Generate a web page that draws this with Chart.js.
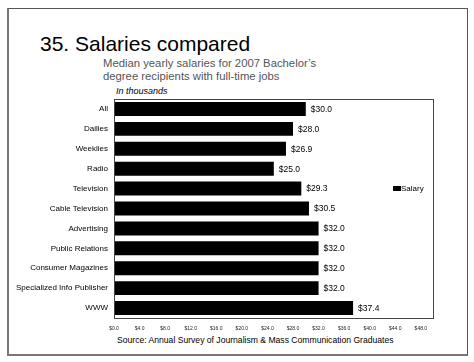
<!DOCTYPE html>
<html>
<head>
<meta charset="utf-8">
<script src="https://cdn.jsdelivr.net/npm/chart.js@4"></script>
<style>
body { margin: 0; background: #fff; font-family: "Liberation Sans", Arial, sans-serif; }
#wrap { position: relative; width: 474px; height: 362px; overflow: hidden; }
#frame { position: absolute; left: 7px; top: 8px; width: 458px; height: 345px; border: 1px solid #555; border-left: 2px solid #777; border-bottom: 2px solid #777; }
#title { position: absolute; left: 40px; top: 32px; font-size: 21px; line-height: 24px; color: #000; white-space: nowrap; }
#sub { position: absolute; left: 103px; top: 57px; font-size: 11.3px; line-height: 13px; color: #555; white-space: nowrap; }
#unit { position: absolute; left: 116px; top: 86px; font-size: 9px; font-style: italic; color: #000; }
#src { position: absolute; left: 117px; top: 335px; font-size: 8.6px; color: #000; white-space: nowrap; }
canvas { position: absolute; left: 0; top: 0; }
</style>
</head>
<body>
<div id="wrap">
  <div id="frame"></div>
  <div id="title">35. Salaries compared</div>
  <div id="sub">Median yearly salaries for 2007 Bachelor’s<br>degree recipients with full-time jobs</div>
  <div id="unit">In thousands</div>
  <div id="src">Source: Annual Survey of Journalism &amp; Mass Communication Graduates</div>
  <canvas id="salaryCanvas" width="474" height="362"></canvas>
</div>
<script>
// data (thousands of dollars)
var categories = ["All", "Dailies", "Weeklies", "Radio", "Television", "Cable Television",
    "Advertising", "Public Relations", "Consumer Magazines", "Specialized Info Publisher", "WWW"];
var salary = [30.0, 28.0, 26.9, 25.0, 29.3, 30.5, 32.0, 32.0, 32.0, 32.0, 37.4];
var xTicks = [0, 4, 8, 12, 16, 20, 24, 28, 32, 36, 40, 44, 48];

var font = "'Liberation Sans', Arial, sans-serif";

// box round the plot area
var plotBox = {
    id: "plotBox",
    afterDraw: function(chart){
        var a = chart.chartArea, ctx = chart.ctx;
        ctx.save();
        ctx.strokeStyle = "#444";
        ctx.lineWidth = 1;
        ctx.strokeRect(Math.round(a.left) + 0.5, Math.round(a.top) + 0.5,
            Math.round(a.right - a.left), Math.round(a.bottom - a.top));
        ctx.restore();
    }
};

// "$30.0" labels at bar ends
var valueLabels = {
    id: "valueLabels",
    afterDatasetsDraw: function(chart){
        var ctx = chart.ctx;
        var meta = chart.getDatasetMeta(0);
        ctx.save();
        ctx.font = "8.5px " + font;
        ctx.fillStyle = "#000";
        ctx.textBaseline = "middle";
        meta.data.forEach(function(bar, i){
            ctx.fillText("$" + salary[i].toFixed(1), bar.x + 5, bar.y + 0.5);
        });
        ctx.restore();
    }
};

// small legend sitting inside the plot box
var sideLegend = {
    id: "sideLegend",
    afterDraw: function(chart){
        var ctx = chart.ctx;
        var ds = chart.data.datasets[0];
        ctx.save();
        ctx.fillStyle = "#000";
        ctx.fillRect(393, 186, 8, 5);
        ctx.font = "8px " + font;
        ctx.textBaseline = "middle";
        ctx.fillText(ds.label, 401, 188.5);
        ctx.restore();
    }
};

var ctx1 = document.getElementById("salaryCanvas");
var chart1 = new Chart(ctx1, {
    type: "bar",
    data: {
        labels: categories,
        datasets: [{
            label: "Salary",
            data: salary,
            backgroundColor: "#000",
            borderColor: "#333",
            borderWidth: 0,
            barPercentage: 0.7,
            categoryPercentage: 1.0
        }]
    },
    options: {
        indexAxis: "y",
        responsive: false,
        animation: false,
        layout: { padding: { left: 0, top: 99, right: 41, bottom: 0 } },
        plugins: {
            legend: { display: false },
            tooltip: { enabled: false }
        },
        scales: {
            x: {
                min: 0,
                max: 49.9,
                grid: { display: false, drawTicks: false },
                border: { display: false },
                afterBuildTicks: function(scale){
                    scale.ticks = xTicks.map(function(v){ return { value: v }; });
                },
                afterFit: function(scale){ scale.height = 44; },
                ticks: {
                    padding: 8,
                    maxRotation: 0,
                    autoSkip: false,
                    color: "#222",
                    font: { size: 5, family: font },
                    callback: function(v){ return "$" + Number(v).toFixed(1); }
                }
            },
            y: {
                grid: { display: false, drawTicks: false },
                border: { display: false },
                afterFit: function(scale){ scale.width = 114; },
                ticks: {
                    padding: 6,
                    autoSkip: false,
                    color: "#000",
                    font: { size: 8, family: font }
                }
            }
        }
    },
    plugins: [plotBox, valueLabels, sideLegend]
});
</script>
</body>
</html>
